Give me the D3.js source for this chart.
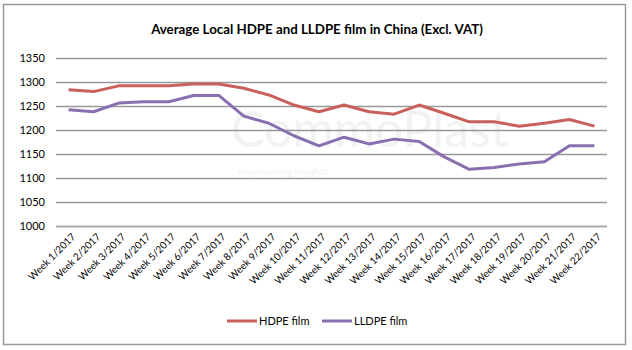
<!DOCTYPE html>
<html>
<head>
<meta charset="utf-8">
<script src="https://cdn.jsdelivr.net/npm/d3@7"></script>
<style>
  body { margin: 0; background: #fff; }
  svg text { font-family: Lato, "Open Sans", sans-serif; }
</style>
</head>
<body>
<div id="chart"></div>
<script>
// data
const weeks = ["Week 1/2017", "Week 2/2017", "Week 3/2017", "Week 4/2017", "Week 5/2017",
  "Week 6/2017", "Week 7/2017", "Week 8/2017", "Week 9/2017", "Week 10/2017", "Week 11/2017",
  "Week 12/2017", "Week 13/2017", "Week 14/2017", "Week 15/2017", "Week 16/2017", "Week 17/2017",
  "Week 18/2017", "Week 19/2017", "Week 20/2017", "Week 21/2017", "Week 22/2017"];
const hdpe = [1284, 1280, 1292, 1292, 1292, 1296, 1296, 1287, 1273, 1252, 1238,
  1252, 1238, 1233, 1252, 1235, 1217, 1217, 1208, 1214, 1222, 1208];
const lldpe = [1242, 1238, 1256, 1259, 1259, 1272, 1272, 1229, 1214, 1188, 1167,
  1185, 1171, 1181, 1176, 1144, 1118, 1122, 1129, 1134, 1167, 1167];
const yTicks = [1000, 1050, 1100, 1150, 1200, 1250, 1300, 1350];
const seriesNames = ["HDPE film", "LLDPE film"];
const seriesColors = ["#c9605b", "#8a6fb0"];

const W = 632, H = 350;
const margin = {top: 58, right: 25, bottom: 124, left: 56};
const width = W - margin.left - margin.right;
const height = H - margin.top - margin.bottom;

const svg = d3.select("#chart").append("svg")
  .attr("width", W)
  .attr("height", H);

// outer frame
svg.append("rect")
  .attr("x", 3.5).attr("y", 4.5)
  .attr("width", 622).attr("height", 340)
  .attr("fill", "#fff")
  .attr("stroke", "#9a9a9a")
  .attr("stroke-width", 1.5);

// title
svg.append("text")
  .attr("x", 317)
  .attr("y", 34)
  .attr("text-anchor", "middle")
  .style("font-size", "13.3px")
  .style("font-weight", "bold")
  .text("Average Local HDPE and LLDPE film in China (Excl. VAT)");

const g = svg.append("g")
  .attr("transform", `translate(${margin.left},${margin.top})`);

const x = d3.scaleBand().domain(weeks).range([0, width]);
const y = d3.scaleLinear().domain([1000, 1350]).range([height, 0]);

// faint watermark
const wm = g.append("g").attr("fill", "#f2f2f2");
wm.append("text")
  .attr("x", x(weeks[7]))
  .attr("y", y(1165))
  .style("font-size", "50px")
  .text("CommoPlast");
wm.append("text")
  .attr("x", x(weeks[7]) + 6)
  .attr("y", y(1106))
  .style("font-size", "10px")
  .text("empowering insights");

// gridlines + y labels
const yAxis = g.append("g")
  .call(d3.axisLeft(y).tickValues(yTicks).tickFormat(d3.format("d"))
    .tickSize(-width).tickPadding(11));
yAxis.select(".domain").remove();
yAxis.selectAll(".tick line")
  .attr("stroke", "#999")
  .attr("stroke-width", 1.6);
yAxis.selectAll(".tick text")
  .attr("fill", "#000")
  .style("font-size", "11px");
yAxis.selectAll(".tick").filter(d => d === 1000).select("line")
  .attr("stroke", "#aaa")
  .attr("stroke-width", 2.2);

// x labels, rotated
const xAxis = g.append("g")
  .attr("transform", `translate(0,${height})`)
  .call(d3.axisBottom(x).tickSize(0).tickPadding(0));
xAxis.select(".domain").remove();
xAxis.selectAll(".tick text")
  .attr("fill", "#000")
  .style("font-size", "10px")
  .attr("text-anchor", "end")
  .attr("transform", "translate(5,9) rotate(-45)")
  .attr("dy", "0.35em");

// lines
const line = d3.line()
  .x((d, i) => x(weeks[i]) + x.bandwidth() / 2)
  .y(d => y(d));

[hdpe, lldpe].forEach((s, k) => {
  g.append("path")
    .datum(s)
    .attr("fill", "none")
    .attr("stroke", seriesColors[k])
    .attr("stroke-width", 3)
    .attr("stroke-linejoin", "round")
    .attr("d", line);
});

// legend
const legend = svg.append("g").attr("transform", "translate(227,321)");
const legendX = [0, 95];
seriesNames.forEach((name, k) => {
  const lg = legend.append("g").attr("transform", `translate(${legendX[k]},0)`);
  lg.append("line")
    .attr("x1", 0).attr("x2", 30)
    .attr("stroke", seriesColors[k])
    .attr("stroke-width", 3);
  lg.append("text")
    .attr("x", 32)
    .attr("dy", "0.35em")
    .style("font-size", "11px")
    .text(name);
});
</script>
</body>
</html>
